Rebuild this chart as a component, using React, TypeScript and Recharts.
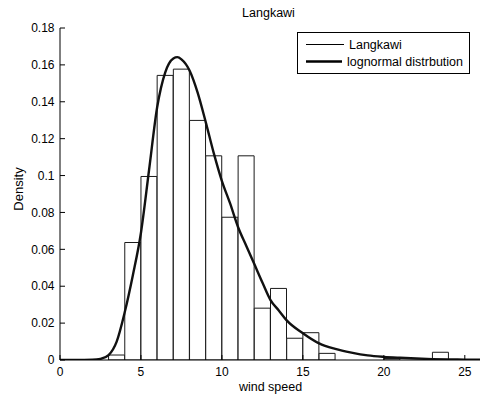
import { Bar, ComposedChart, Legend, Line, XAxis, YAxis } from "recharts";

// histogram bins, width 1, starting at BIN_STARTS
const BIN_STARTS = [0, 1, 2, 3, 4, 5, 6, 7, 8, 9, 10, 11, 12, 13, 14, 15, 16, 17, 18, 19, 20, 21, 22, 23, 24, 25];
const BIN_DENSITY = [
  0, 0, 0, 0.0027, 0.0637, 0.0995, 0.1543, 0.1577, 0.1299, 0.1107, 0.0774, 0.1107, 0.0281,
  0.0388, 0.0118, 0.0148, 0.0036, 0, 0, 0, 0.0008, 0, 0, 0.0042, 0, 0,
];

// fitted lognormal curve
const CURVE_X = [
  0, 1, 2, 2.5, 3, 3.5, 4, 4.5, 5, 5.5, 6, 6.5, 7, 7.25, 7.5, 8, 8.5, 9, 9.5, 10, 10.5, 11,
  11.5, 12, 12.5, 13, 13.5, 14, 15, 16, 17, 18, 19, 20, 21, 22, 23, 24, 25, 26,
];
const CURVE_Y = [
  0, 0, 0.0001, 0.0006, 0.0027, 0.01, 0.026, 0.046, 0.069, 0.103, 0.137, 0.156, 0.1635, 0.1642,
  0.163, 0.157, 0.145, 0.129, 0.112, 0.097, 0.085, 0.072, 0.062, 0.052, 0.042, 0.0325, 0.027,
  0.0215, 0.0145, 0.009, 0.006, 0.004, 0.0025, 0.0017, 0.0012, 0.0008, 0.0005, 0.0003, 0.0002,
  0.0001,
];

const X_TICKS = [0, 5, 10, 15, 20, 25];
const Y_TICKS = [0, 0.02, 0.04, 0.06, 0.08, 0.1, 0.12, 0.14, 0.16, 0.18];

const histData = BIN_STARTS.map((start, i) => ({ bin: start, density: BIN_DENSITY[i] }));
const curveData = CURVE_X.map((x, i) => ({ x, pdf: CURVE_Y[i] }));

const FONT = "Arial, 'Liberation Sans', sans-serif";
const tickStyle = { fill: "#000", fontSize: 12, fontFamily: FONT };

function MatlabLegend({ payload }: any) {
  return (
    <div
      style={{
        boxSizing: "border-box",
        width: 173,
        border: "1px solid #000",
        background: "#fff",
        padding: "3px 6px 3px 8px",
        fontFamily: FONT,
        fontSize: 12.5,
        color: "#000",
      }}
    >
      {(payload || []).map((entry: any) => {
        const thick = entry.type === "line";
        return (
          <div key={entry.value} style={{ display: "flex", alignItems: "center", height: 17 }}>
            <svg width={38} height={3} style={{ display: "block" }}>
              <line
                x1={0}
                x2={38}
                y1={1.5}
                y2={1.5}
                stroke="#000"
                strokeWidth={thick ? 2.4 : 1}
              />
            </svg>
            <span style={{ marginLeft: 5, whiteSpace: "nowrap" }}>{entry.value}</span>
          </div>
        );
      })}
    </div>
  );
}

export default function App() {
  return (
    <div style={{ position: "absolute", left: 0, top: 0, width: 482, height: 396, background: "#fff" }}>
      <div
        style={{
          position: "absolute",
          left: 60,
          width: 417,
          top: 6,
          lineHeight: "14px",
          textAlign: "center",
          fontFamily: FONT,
          fontSize: 12.5,
          color: "#000",
        }}
      >
        Langkawi
      </div>
      <div
        style={{
          position: "absolute",
          left: 18,
          top: 189,
          transform: "translate(-50%, -50%) rotate(-90deg)",
          whiteSpace: "nowrap",
          lineHeight: 1,
          fontFamily: FONT,
          fontSize: 13,
          color: "#000",
        }}
      >
        Density
      </div>
      <ComposedChart
        width={482}
        height={396}
        data={histData}
        margin={{ top: 27, right: 0, bottom: 0, left: 0 }}
        barCategoryGap={0}
        barGap={0}
      >
        <XAxis
          xAxisId="num"
          dataKey="x"
          type="number"
          domain={[0, 26]}
          allowDataOverflow
          ticks={X_TICKS}
          interval={0}
          height={36}
          tickSize={-5}
          tickMargin={12.5}
          tick={tickStyle}
          axisLine={{ stroke: "#000" }}
          tickLine={{ stroke: "#000" }}
          label={{
            value: "wind speed",
            position: "insideBottom",
            offset: 5.5,
            fill: "#000",
            fontSize: 12.5,
            fontFamily: FONT,
          }}
        />
        <XAxis
          xAxisId="top"
          orientation="top"
          type="number"
          domain={[0, 26]}
          allowDataOverflow
          ticks={X_TICKS}
          interval={0}
          height={1}
          tick={false}
          tickSize={-5}
          axisLine={{ stroke: "#000" }}
          tickLine={{ stroke: "#000" }}
        />
        <XAxis xAxisId="cat" dataKey="bin" type="category" orientation="top" hide />
        <YAxis
          domain={[0, 0.18]}
          allowDataOverflow
          ticks={Y_TICKS}
          interval={0}
          width={60}
          tickSize={-5}
          tickMargin={10.5}
          tick={tickStyle}
          tickFormatter={(v: number) => String(Number(v.toFixed(2)))}
          axisLine={{ stroke: "#000" }}
          tickLine={{ stroke: "#000" }}
        />
        <YAxis
          yAxisId="right"
          orientation="right"
          domain={[0, 0.18]}
          allowDataOverflow
          ticks={Y_TICKS}
          interval={0}
          width={1}
          tick={false}
          tickSize={-5}
          axisLine={{ stroke: "#000" }}
          tickLine={{ stroke: "#000" }}
        />
        <Legend
          layout="vertical"
          align="center"
          verticalAlign="middle"
          content={<MatlabLegend />}
          wrapperStyle={{ top: 32, left: 297, width: 173, height: 42 }}
        />
        <Bar
          xAxisId="cat"
          dataKey="density"
          name="Langkawi"
          legendType="plainline"
          fill="#fff"
          stroke="#1a1a1a"
          strokeWidth={1}
          isAnimationActive={false}
        />
        <Line
          xAxisId="num"
          data={curveData}
          dataKey="pdf"
          name="lognormal distrbution"
          legendType="line"
          type="monotone"
          stroke="#111"
          strokeWidth={2.4}
          dot={false}
          activeDot={false}
          isAnimationActive={false}
        />
      </ComposedChart>
    </div>
  );
}
